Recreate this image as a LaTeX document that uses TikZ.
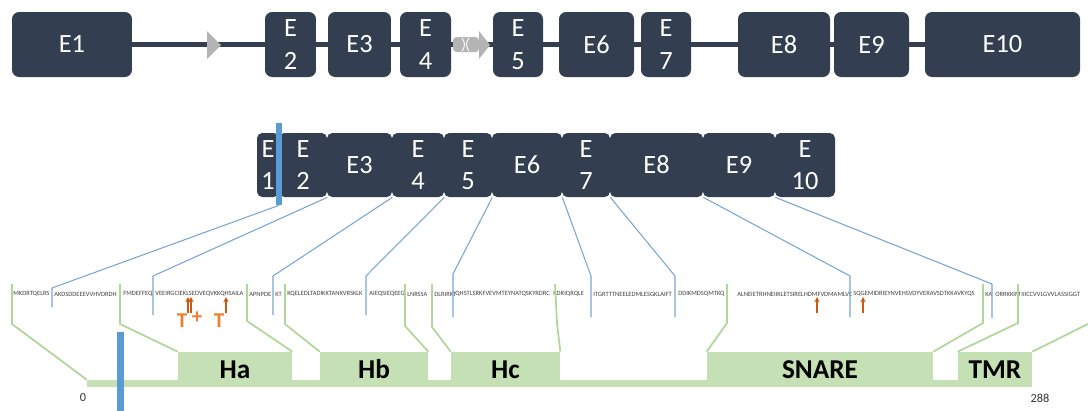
\documentclass[tikz,border=0pt]{standalone}
\usepackage{fontspec}
\setmainfont{Carlito}
\usepackage{tikz}
\usetikzlibrary{arrows.meta}
\definecolor{exonblue}{RGB}{51,63,80}
\definecolor{barblue}{RGB}{91,155,213}
\definecolor{linkblue}{RGB}{120,165,210}
\definecolor{domgreen}{RGB}{197,224,180}
\definecolor{linkgreen}{RGB}{178,214,154}
\definecolor{mutorange}{RGB}{197,90,17}
\definecolor{torange}{RGB}{237,125,49}
\definecolor{tipgray}{RGB}{180,180,180}
\tikzset{
  exon/.style={fill=exonblue, text=white, rounded corners=4pt, inner sep=0pt,
    minimum height=1.3cm, align=center, font=\fontsize{15}{18.5}\selectfont},
  exontwo/.style={exon, rounded corners=3pt, minimum height=1.28cm},
  intron/.style={line width=3.4pt, exonblue},
  bar/.style={fill=barblue, inner sep=0pt},
  seqlink/.style={linkblue, line width=0.6pt},
  domlink/.style={linkgreen, line width=1pt},
  dom/.style={fill=domgreen, inner sep=0pt, minimum height=0.7cm,
    font=\bfseries\fontsize{15.5}{15.5}\selectfont},
  seq/.style={anchor=west, inner sep=0pt, text=black!75, font=\fontsize{3.7}{4.2}\selectfont},
  mut/.style={mutorange, line width=0.6pt, -{Stealth[length=3pt,width=3pt]}},
  tlab/.style={text=torange, inner sep=0pt, font=\bfseries\fontsize{12}{12}\selectfont},
  axis/.style={inner sep=0pt, text=black!80, font=\fontsize{7}{7}\selectfont}
}
\begin{document}
\begin{tikzpicture}[x=0.02cm, y=-0.02cm]

    \useasboundingbox (0,0) rectangle (1088,410);
    \clip (0,0) rectangle (1088,410);

    \node[exon, minimum width=2.4cm] (e1) at (72,44.5) {E1};
    \node[exon, minimum width=1.02cm] (e2) at (290.5,44.5) {E\\2};
    \node[exon, minimum width=1.26cm] (e3) at (359.5,44.5) {E3};
    \node[exon, minimum width=1.02cm] (e4) at (425.5,44.5) {E\\4};
    \node[exon, minimum width=1.0cm] (e5) at (518,44.5) {E\\5};
    \node[exon, minimum width=1.5cm] (e6) at (596.5,44.5) {E6};
    \node[exon, minimum width=1.0cm] (e7) at (666,44.5) {E\\7};
    \node[exon, minimum width=1.84cm] (e8) at (784,44.5) {E8};
    \node[exon, minimum width=1.5cm] (e9) at (871.5,44.5) {E9};
    \node[exon, minimum width=3.1cm] (e10) at (1002.5,44.5) {E10};

    \draw[intron] (e1) -- (e2);
    \draw[intron] (e2) -- (e3);
    \draw[intron] (e3) -- (e4);
    \draw[intron] (e4) -- (e5);
    \draw[intron] (e5) -- (e6);
    \draw[intron] (e6) -- (e7);
    \draw[intron] (e7) -- (e8);
    \draw[intron] (e8) -- (e9);
    \draw[intron] (e9) -- (e10);

    \fill[tipgray] (207,31) -- (221,45) -- (207,59) -- cycle;
    \fill[tipgray, rounded corners=2pt] (453,37) rectangle (479,52);
    \draw[white, line width=0.5pt] (462,38) to[bend left=40] (462,51);
    \draw[white, line width=0.5pt] (469,38) to[bend right=40] (469,51);
    \fill[tipgray] (479,31) -- (490,45) -- (479,59) -- cycle;

    \node[exontwo, minimum width=0.44cm] (r1) at (268,165) {E\\1};
    \node[exontwo, minimum width=0.96cm] (r2) at (303,165) {E\\2};
    \node[exontwo, minimum width=1.3cm] (r3) at (359.5,165) {E3};
    \node[exontwo, minimum width=1.04cm] (r4) at (418,165) {E\\4};
    \node[exontwo, minimum width=0.96cm] (r5) at (468,165) {E\\5};
    \node[exontwo, minimum width=1.4cm] (r6) at (527,165) {E6};
    \node[exontwo, minimum width=0.96cm] (r7) at (586,165) {E\\7};
    \node[exontwo, minimum width=1.86cm] (r8) at (656.5,165) {E8};
    \node[exontwo, minimum width=1.44cm] (r9) at (739,165) {E9};
    \node[exontwo, minimum width=1.2cm] (r10) at (805,165) {E\\10};

    \node[bar, minimum width=0.12cm, minimum height=1.64cm] (bar1) at (279,164) {};

    \node[seq] (s1) at (13,294) {MKDRTQELRS};
    \node[seq] (s2) at (54,294) {AKDSDDEEEVVHVDRDH};
    \node[seq] (s3) at (123,294) {FMDEFFEQ};
    \node[seq] (s4) at (155,294) {VEEIRGCIEKLSEDVEQVKKQHSAILA};
    \node[seq] (s5) at (249,294) {APNPDE};
    \node[seq] (s6) at (275,294) {KT};
    \node[seq] (s7) at (287,294) {KQELEDLTADIKKTANKVRSKLK};
    \node[seq] (s8) at (369,294) {AIEQSIEQEEG};
    \node[seq] (s9) at (407,294) {LNRSSA};
    \node[seq] (s10) at (434,294) {DLRIRKT};
    \node[seq] (s11) at (455,294) {QHSTLSRKFVEVMTEYNATQSKYRDRC};
    \node[seq] (s12) at (553,294) {KDRIQRQLE};
    \node[seq] (s13) at (593,294) {ITGRTTTNEELEDMLESGKLAIFT};
    \node[seq] (s14) at (678,294) {DDIKMDSQMTKQ};
    \node[seq] (s15) at (737,294) {ALNEIETRHNEIIKLETSIRELHDMFVDMAMLVE};
    \node[seq] (s16) at (853,294) {SQGEMIDRIEYNVEHSVDYVERAVSDTKKAVKYQS};
    \node[seq] (s17) at (985,294) {KA};
    \node[seq] (s18) at (995,294) {ORRKKIM};
    \node[seq] (s19) at (1021,294) {IIICCVVLGVVLASSIGGT};

    \coordinate (g1) at (52,307);
    \coordinate (g2) at (153,315);
    \coordinate (g3) at (273,315);
    \coordinate (g4) at (366,315);
    \coordinate (g5) at (453,317);
    \coordinate (g6) at (591,317);
    \coordinate (g7) at (675,317);
    \coordinate (g8) at (850,317);
    \coordinate (g9) at (992,318);

    \draw[seqlink] (bar1.south) -- (g1 |- 0,288) -- (g1);
    \draw[seqlink] (r2.south east) -- (g2 |- 0,276) -- (g2);
    \draw[seqlink] (r3.south east) -- (g3 |- 0,276) -- (g3);
    \draw[seqlink] (r4.south east) -- (g4 |- 0,276) -- (g4);
    \draw[seqlink] (r5.south east) -- (g5 |- 0,274) -- (g5);
    \draw[seqlink] (r6.south east) -- (g6 |- 0,276) -- (g6);
    \draw[seqlink] (r7.south east) -- (g7 |- 0,276) -- (g7);
    \draw[seqlink] (r8.south east) -- (g8 |- 0,276) -- (g8);
    \draw[seqlink] (r9.south east) -- (g9 |- 0,284) -- (g9);

    \node[dom, minimum width=18.9cm, minimum height=0.14cm] (base) at (559.5,383.5) {};
    \node[dom, minimum width=2.28cm] (ha) at (235,369.5) {Ha};
    \node[dom, minimum width=2.16cm] (hb) at (374,369.5) {Hb};
    \node[dom, minimum width=2.18cm] (hc) at (505.5,369.5) {Hc};
    \node[dom, minimum width=4.52cm] (snare) at (820,369.5) {SNARE};
    \node[dom, minimum width=1.48cm] (tmr) at (995,369.5) {TMR};

    \coordinate (d1) at (12,324);
    \coordinate (d2) at (120,324);
    \coordinate (d3) at (247,321);
    \coordinate (d4) at (285,324);
    \coordinate (d5) at (405,326);
    \coordinate (d6) at (432,327);
    \coordinate (d7) at (557,323);
    \coordinate (d8) at (727,323);
    \coordinate (d9) at (983,323);
    \coordinate (d10) at (1018,323);
    \coordinate (d11) at (1100,318);

    \draw[domlink] (d1 |- 0,284) -- (d1) -- (base.north west);
    \draw[domlink] (d2 |- 0,284) -- (d2) -- (ha.north west);
    \draw[domlink] (d3 |- 0,284) -- (d3) -- (ha.north east);
    \draw[domlink] (d4 |- 0,284) -- (d4) -- (hb.north west);
    \draw[domlink] (d5 |- 0,284) -- (d5) -- (hb.north east);
    \draw[domlink] (d6 |- 0,284) -- (d6) -- (hc.north west);
    \draw[domlink] (555,284) -- (d7) -- (hc.north east);
    \draw[domlink] (d8 |- 0,284) -- (d8) -- (snare.north west);
    \draw[domlink] (d9 |- 0,284) -- (d9) -- (snare.north east);
    \draw[domlink] (d10 |- 0,284) -- (d10) -- (tmr.north west);
    \draw[domlink] (d11 |- 0,284) -- (d11) -- (tmr.north east);

    \node[bar, minimum width=0.14cm, minimum height=1.6cm] (bar2) at (120.5,372) {};

    \draw[mut] (188,313) -- (188,297);
    \draw[mut] (191,313) -- (191,297);
    \draw[mut] (226,313) -- (226,297);
    \draw[mut] (817,313) -- (817,297);
    \draw[mut] (863,313) -- (863,297);

    \node[tlab] (t1) at (182,321) {T};
    \node[tlab] (plus) at (197,318) {+};
    \node[tlab] (t2) at (219,321) {T};

    \node[axis] (zero) at (83,398) {0};
    \node[axis] (end) at (1040,398) {288};
\end{tikzpicture}
\end{document}
